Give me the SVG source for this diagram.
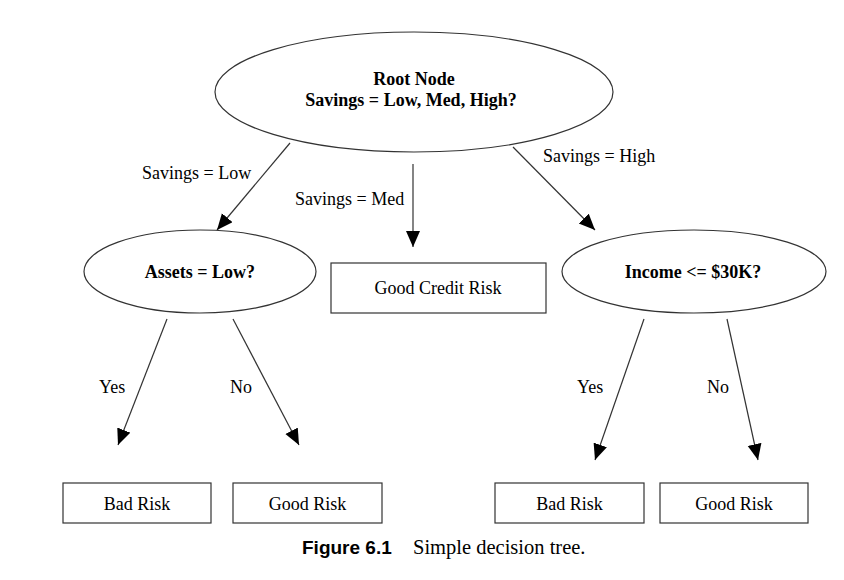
<svg xmlns="http://www.w3.org/2000/svg" width="844" height="580" viewBox="0 0 844 580">
<defs>
<marker id="arr" markerUnits="userSpaceOnUse" markerWidth="17" markerHeight="15" refX="16" refY="7" orient="auto">
<path d="M0,0 L16,7 L0,14 Z" fill="#000"/>
</marker>
<style>
.shape{fill:#fff;stroke:#333;stroke-width:1.2}
.edge{stroke:#333;stroke-width:1.2;fill:none;marker-end:url(#arr)}
.t{font-family:"Liberation Serif","Times New Roman",serif;font-size:18px;fill:#000}
.b{font-weight:bold}
.m{text-anchor:middle}
</style>
</defs>
<rect width="844" height="580" fill="#fff"/>
<g id="connectors">
<line class="edge" x1="290" y1="143" x2="217" y2="230"/>
<line class="edge" x1="413" y1="164" x2="413" y2="247"/>
<line class="edge" x1="513" y1="147" x2="595" y2="230"/>
<line class="edge" x1="167" y1="319" x2="118" y2="445"/>
<line class="edge" x1="233" y1="319" x2="299" y2="445"/>
<line class="edge" x1="644" y1="319" x2="595" y2="460"/>
<line class="edge" x1="727" y1="319" x2="758" y2="460"/>
<text class="t" x="142" y="179">Savings = Low</text>
<text class="t" x="295" y="205">Savings = Med</text>
<text class="t" x="543" y="162">Savings = High</text>
<text class="t" x="99" y="393">Yes</text>
<text class="t" x="230" y="393">No</text>
<text class="t" x="577" y="393">Yes</text>
<text class="t" x="707" y="393">No</text>
</g>
<g id="root">
<ellipse class="shape" cx="414" cy="92" rx="199" ry="60"/>
<text class="t b m" x="414" y="85">Root Node</text>
<text class="t b m" x="411" y="106">Savings = Low, Med, High?</text>
</g>
<g id="assets">
<ellipse class="shape" cx="200" cy="271.5" rx="116" ry="41.5"/>
<text class="t b m" x="200" y="278">Assets = Low?</text>
</g>
<g id="goodcredit">
<rect class="shape" x="331" y="263" width="215" height="50"/>
<text class="t m" x="438" y="294">Good Credit Risk</text>
</g>
<g id="income">
<ellipse class="shape" cx="694" cy="271.5" rx="132" ry="41.5"/>
<text class="t b m" x="693" y="278">Income &lt;= $30K?</text>
</g>
<g id="bad1">
<rect class="shape" x="63" y="483" width="148" height="40"/>
<text class="t m" x="137" y="510">Bad Risk</text>
</g>
<g id="good1">
<rect class="shape" x="233" y="483" width="149" height="40"/>
<text class="t m" x="307.5" y="510">Good Risk</text>
</g>
<g id="bad2">
<rect class="shape" x="495" y="483" width="149" height="40"/>
<text class="t m" x="569.5" y="510">Bad Risk</text>
</g>
<g id="good2">
<rect class="shape" x="660" y="483" width="148" height="40"/>
<text class="t m" x="734" y="510">Good Risk</text>
</g>
<g id="caption">
<text x="302" y="554" font-family="'Liberation Sans',Arial,sans-serif" font-weight="bold" font-size="19" fill="#000">Figure 6.1</text>
<text x="413" y="554" font-family="'Liberation Serif','Times New Roman',serif" font-size="20.5" fill="#000">Simple decision tree.</text>
</g>
</svg>
